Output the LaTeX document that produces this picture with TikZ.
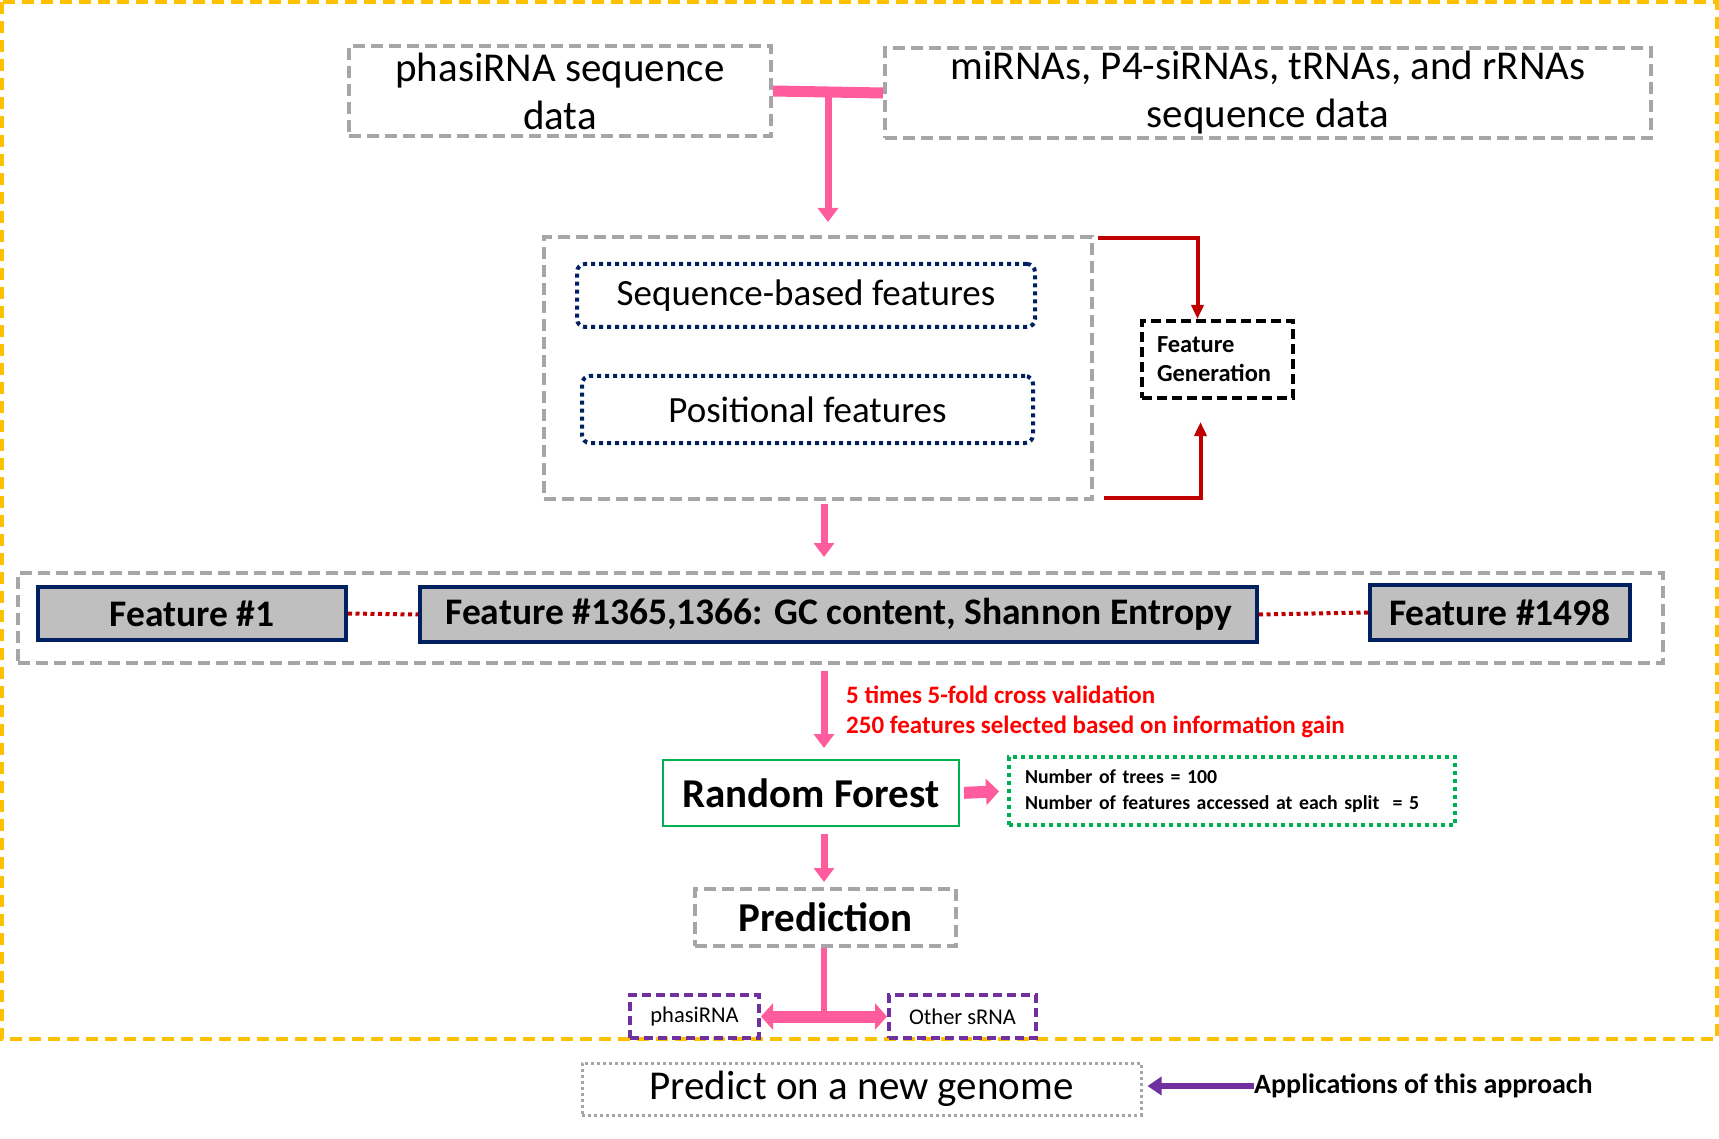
\documentclass[tikz,border=0pt]{standalone}
\usepackage{fontspec}
\setmainfont{Carlito}
\usetikzlibrary{positioning, calc, arrows.meta}

\definecolor{framegold}{HTML}{FFC000}
\definecolor{boxgray}{HTML}{A6A6A6}
\definecolor{featnavy}{HTML}{002060}
\definecolor{featfill}{HTML}{BFBFBF}
\definecolor{loopred}{HTML}{C00000}
\definecolor{flowpink}{HTML}{FF5C9D}
\definecolor{rfgreen}{HTML}{00B050}
\definecolor{outpurple}{HTML}{7030A0}

\begin{document}
\begin{tikzpicture}[
  x=1pt, y=-1pt,
  big/.style        = {font=\fontsize{41}{48}\selectfont},
  databox/.style    = {draw=boxgray, line width=4pt, dash pattern=on 12pt off 6pt, align=center, big, inner sep=0pt},
  subfeat/.style    = {draw=featnavy, line width=4pt, dash pattern=on 4pt off 4pt, rounded corners=8pt, font=\fontsize{37}{44}\selectfont, inner sep=0pt},
  featbox/.style    = {draw=featnavy, fill=featfill, line width=4pt, font=\bfseries\fontsize{37.5}{42}\selectfont, inner sep=0pt},
  outbox/.style     = {draw=outpurple, line width=4pt, dash pattern=on 9pt off 5pt, font=\fontsize{22.5}{27}\selectfont, inner sep=0pt},
  note/.style       = {anchor=west, align=left, inner sep=0pt},
  flow/.style       = {-{Triangle[length=14pt,width=20pt]}, line width=7pt, color=flowpink},
  loop/.style       = {-{Triangle[length=14pt,width=12pt]}, line width=4pt, color=loopred},
  gap/.style        = {line width=4pt, dash pattern=on 4pt off 3.5pt, color=loopred},
]
\useasboundingbox (0,0) rectangle (1719,1139);

% =============================================================
% Outer frame
% =============================================================
\draw[framegold, line width=4pt, dash pattern=on 12pt off 7pt] (2,2) rectangle (1717,1039);

% =============================================================
% Input data
% =============================================================
\node[databox, minimum width=422pt, minimum height=90pt] (phasi) at (560, 91) {phasiRNA sequence\\data};
\node[databox, minimum width=766pt, minimum height=90pt] (others) at (1268, 93) {\raisebox{-3pt}{miRNAs, P4-siRNAs, tRNAs, and rRNAs}\\\raisebox{-3pt}{sequence data}};

% =============================================================
% Feature generation
% =============================================================
\node[databox, minimum width=548pt, minimum height=262pt] (fgbox) at (818, 368) {};
\node[subfeat, minimum width=458pt, minimum height=63pt] (seqf) at (806, 295.5) {Sequence-based features};
\node[subfeat, minimum width=451pt, minimum height=67pt] (posf) at (807.5, 409.5) {Positional features};
\node[draw, line width=4pt, dash pattern=on 10pt off 5pt, minimum width=151pt, minimum height=77pt,
      text width=121pt, align=left, inner sep=0pt, font=\bfseries\fontsize{24.5}{29}\selectfont] (fgen) at (1217.5, 359.5) {Feature\\Generation};

% main axis of the pink arrows
\coordinate (axis) at (824, 0);

% T-junction from both data boxes down to the feature box
\draw[flowpink, line width=11pt] (phasi.east) -- (others.west);
\coordinate (tjoin) at (828, 89);
\draw[flow, shorten >=13pt] (tjoin) -- (tjoin |- fgbox.north);

% loop arrows into "Feature Generation"
\draw[loop] ([xshift=4pt,yshift=-3pt]fgbox.north east) -| ([xshift=-20pt]fgen.north);
\draw[loop] ([xshift=10pt,yshift=3pt]fgbox.south east) -| ([xshift=-17pt,yshift=-22pt]fgen.south);

% =============================================================
% Feature vector
% =============================================================
\node[databox, minimum width=1645pt, minimum height=90pt] (featrow) at (840.5, 618) {};
\node[featbox, minimum width=308pt, minimum height=53pt] (f1) at (192, 613.5) {Feature \#1};
\node[featbox, minimum width=837pt, minimum height=55pt] (fmid) at (838.5, 614.5) {Feature \#1365,1366: GC content, Shannon Entropy};
\node[featbox, minimum width=260pt, minimum height=55pt] (flast) at (1500, 612.5) {Feature \#1498};
\draw[gap] (f1.east) -- (fmid.west);
\draw[gap] (fmid.east) -- (flast.west);

\draw[flow, shorten <=3pt, shorten >=14pt] (fgbox.south -| axis) -- (featrow.north -| axis);

% =============================================================
% Classifier
% =============================================================
\node[note, text=red, font=\bfseries\fontsize{25}{30}\selectfont] (cv) at (846, 712)
  {5 times 5-fold cross validation\\250 features selected based on information gain};
\node[draw=rfgreen, line width=2pt, minimum width=296pt, minimum height=66pt, inner sep=0pt,
      font=\bfseries\fontsize{41}{48}\selectfont] (rf) at (811, 793) {Random Forest};
\node[draw=rfgreen, line width=4pt, dash pattern=on 4pt off 4pt, minimum width=446pt, minimum height=68pt,
      text width=414pt, align=left, inner sep=0pt, font=\bfseries\fontsize{19.8}{26}\selectfont] (params) at (1232, 791)
  {Number of trees = 100\\Number of features accessed at each split~ = 5};

\draw[flow, shorten <=6pt, shorten >=11pt] (featrow.south -| axis) -- (rf.north -| axis);
\draw[-{Triangle[length=13pt,width=26pt]}, line width=12pt, flowpink, shorten <=4pt, shorten >=8pt] (rf.east) -- (params.west);

% =============================================================
% Prediction and outputs
% =============================================================
\node[databox, minimum width=261pt, minimum height=57pt, font=\bfseries\fontsize{41}{48}\selectfont] (pred) at (825.5, 917.5) {Prediction};
\node[outbox, minimum width=129pt, minimum height=43pt] (pos) at (694.5, 1016.5) {phasiRNA};
\node[outbox, minimum width=147pt, minimum height=43pt] (neg) at (962.5, 1016.5) {Other sRNA};

\draw[flow, shorten <=7pt, shorten >=5pt] (rf.south -| axis) -- (pred.north -| axis);
\draw[flowpink, line width=6pt] (pred.south -| axis) -- (axis |- pos.east);
\draw[{Triangle[length=12pt,width=26pt]}-{Triangle[length=12pt,width=26pt]}, line width=12pt, flowpink] (pos.east) -- (neg.west);

% =============================================================
% Application
% =============================================================
\node[draw=boxgray, line width=3pt, dash pattern=on 3pt off 3pt, minimum width=559pt, minimum height=52pt,
      inner sep=0pt, big] (newg) at (861.5, 1089) {Predict on a new genome};
\node[note, font=\bfseries\fontsize{28}{32}\selectfont] (app) at (1254, 1086) {Applications of this approach};
\draw[-{Triangle[length=14pt,width=18pt]}, line width=6pt, outpurple, shorten >=5pt] (app.west) -- (app.west -| newg.east);

\end{tikzpicture}
\end{document}
